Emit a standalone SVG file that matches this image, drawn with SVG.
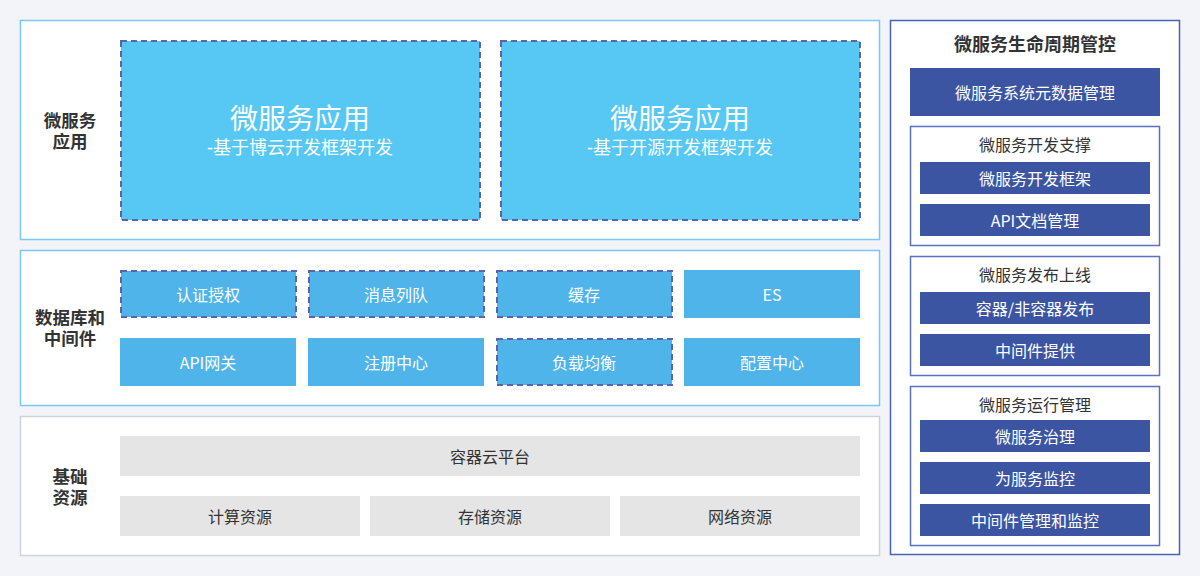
<svg xmlns="http://www.w3.org/2000/svg" width="1200" height="576" viewBox="0 0 1200 576">
<style>
text{font-family:"Noto Sans CJK SC","Noto Sans",sans-serif;text-anchor:middle;dominant-baseline:central}
.panel{fill:#fff;stroke:#7cc7f7;stroke-width:1.5}
.panelg{fill:#fff;stroke:#cfd2d6;stroke-width:1.5}
text.side{font-family:"Liberation Sans","Noto Sans CJK SC",sans-serif;font-size:17.5px;font-weight:bold;fill:#333}
text.lt{font-family:"Liberation Sans","Noto Sans CJK SC",sans-serif;fill:#fff}
.big{fill:#56c8f3;stroke:#5b62ae;stroke-width:2;stroke-dasharray:6 4}
.mid{fill:#4fb4ea}
.dash{stroke:#5b62ae;stroke-width:2;stroke-dasharray:6 4}
.wt{fill:#fff;font-size:16px}
.gray{fill:#e5e5e5}
.gt{fill:#333;font-size:16px}
.dark{fill:#3b55a3}
.sub{fill:#fff;stroke:#5a72bf;stroke-width:1.5}
.st{fill:#333;font-size:16px}
</style>
<rect width="1200" height="576" fill="#f2f4f9"/>

<g id="app-layer">
<rect class="panel" x="20.5" y="20.5" width="859" height="219"/>
<text class="side"><tspan x="70" y="121">微服务</tspan><tspan x="70" y="142">应用</tspan></text>
</g>
<g id="app1">
<rect class="big" x="121" y="41" width="359" height="179"/>
<text class="lt" x="300" y="119" font-size="28">微服务应用</text>
<text class="lt" x="300" y="148" font-size="18">-基于博云开发框架开发</text>
</g>
<g id="app2">
<rect class="big" x="501" y="41" width="359" height="179"/>
<text class="lt" x="680" y="119" font-size="28">微服务应用</text>
<text class="lt" x="680" y="148" font-size="18">-基于开源开发框架开发</text>
</g>

<g id="mw-layer">
<rect class="panel" x="20.5" y="250.5" width="859" height="155"/>
<text class="side"><tspan x="70" y="318">数据库和</tspan><tspan x="70" y="339">中间件</tspan></text>
</g>
<g id="auth"><rect class="mid dash" x="121" y="271" width="175" height="46"/><text class="wt" x="208" y="294">认证授权</text></g>
<g id="mq"><rect class="mid dash" x="309" y="271" width="175" height="46"/><text class="wt" x="396" y="294">消息列队</text></g>
<g id="cache"><rect class="mid dash" x="497" y="271" width="175" height="46"/><text class="wt" x="584" y="294">缓存</text></g>
<g id="es"><rect class="mid" x="684" y="270" width="176" height="48"/><text class="wt" x="772" y="294">ES</text></g>
<g id="gateway"><rect class="mid" x="120" y="338" width="176" height="48"/><text class="wt" x="208" y="362">API网关</text></g>
<g id="registry"><rect class="mid" x="308" y="338" width="176" height="48"/><text class="wt" x="396" y="362">注册中心</text></g>
<g id="lb"><rect class="mid dash" x="497" y="339" width="175" height="46"/><text class="wt" x="584" y="362">负载均衡</text></g>
<g id="config"><rect class="mid" x="684" y="338" width="176" height="48"/><text class="wt" x="772" y="362">配置中心</text></g>

<g id="infra-layer">
<rect class="panelg" x="20.5" y="416.5" width="859" height="139"/>
<text class="side"><tspan x="70" y="477">基础</tspan><tspan x="70" y="498">资源</tspan></text>
</g>
<g id="container-cloud"><rect class="gray" x="120" y="436" width="740" height="40"/><text class="gt" x="490" y="456">容器云平台</text></g>
<g id="compute"><rect class="gray" x="120" y="496" width="240" height="40"/><text class="gt" x="240" y="516">计算资源</text></g>
<g id="storage"><rect class="gray" x="370" y="496" width="240" height="40"/><text class="gt" x="490" y="516">存储资源</text></g>
<g id="network"><rect class="gray" x="620" y="496" width="240" height="40"/><text class="gt" x="740" y="516">网络资源</text></g>

<g id="lifecycle">
<rect fill="#fff" stroke="#4a63b5" stroke-width="1.5" x="890.5" y="20.5" width="289" height="534"/>
<text x="1035" y="43" fill="#333" font-size="18" font-weight="bold">微服务生命周期管控</text>
</g>
<g id="metadata"><rect class="dark" x="910" y="68" width="250" height="48"/><text class="wt" x="1035" y="92">微服务系统元数据管理</text></g>

<g id="dev-support">
<rect class="sub" x="910.5" y="126.5" width="249" height="119"/>
<text class="st" x="1035" y="144">微服务开发支撑</text>
<rect class="dark" x="920" y="162" width="230" height="32"/><text class="wt" x="1035" y="178">微服务开发框架</text>
<rect class="dark" x="920" y="204" width="230" height="32"/><text class="wt" x="1035" y="220">API文档管理</text>
</g>
<g id="release">
<rect class="sub" x="910.5" y="256.5" width="249" height="119"/>
<text class="st" x="1035" y="274">微服务发布上线</text>
<rect class="dark" x="920" y="292" width="230" height="32"/><text class="wt" x="1035" y="308">容器/非容器发布</text>
<rect class="dark" x="920" y="334" width="230" height="32"/><text class="wt" x="1035" y="350">中间件提供</text>
</g>
<g id="runtime">
<rect class="sub" x="910.5" y="386.5" width="249" height="159"/>
<text class="st" x="1035" y="404">微服务运行管理</text>
<rect class="dark" x="920" y="420" width="230" height="32"/><text class="wt" x="1035" y="436">微服务治理</text>
<rect class="dark" x="920" y="462" width="230" height="32"/><text class="wt" x="1035" y="478">为服务监控</text>
<rect class="dark" x="920" y="504" width="230" height="32"/><text class="wt" x="1035" y="520">中间件管理和监控</text>
</g>
<g id="connectors"/>
</svg>
